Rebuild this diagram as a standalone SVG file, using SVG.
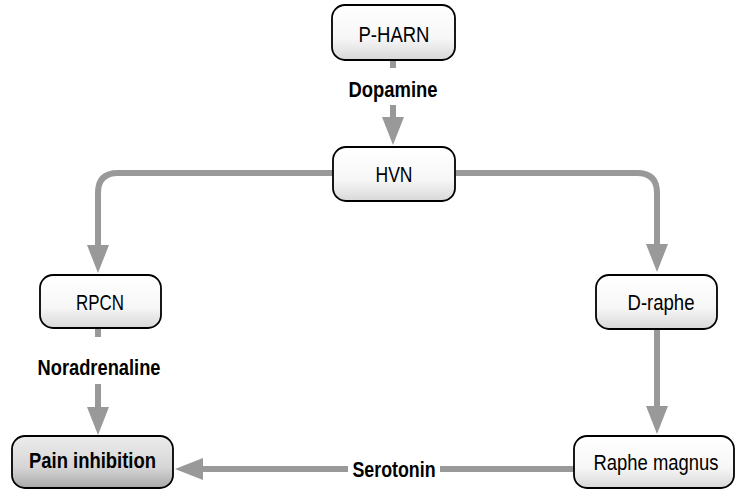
<svg xmlns="http://www.w3.org/2000/svg" width="737" height="490" viewBox="0 0 737 490">
  <defs>
    <linearGradient id="gWhite" x1="0" y1="0" x2="0" y2="1">
      <stop offset="0" stop-color="#ffffff"/>
      <stop offset="0.6" stop-color="#f7f7f7"/>
      <stop offset="1" stop-color="#d8d8d8"/>
    </linearGradient>
    <linearGradient id="gGray" x1="0" y1="0" x2="0" y2="1">
      <stop offset="0" stop-color="#ececec"/>
      <stop offset="0.6" stop-color="#d6d6d6"/>
      <stop offset="1" stop-color="#a8a8a8"/>
    </linearGradient>
    <marker id="arrow" viewBox="0 0 28 22" refX="0" refY="11" markerWidth="28" markerHeight="22" markerUnits="userSpaceOnUse" orient="auto">
      <path d="M0,0 L28,11 L0,22 Z" fill="#999999"/>
    </marker>
  </defs>
  <style>
    .box { fill: url(#gWhite); stroke: #000; stroke-width: 1.8; }
    .box.dark { fill: url(#gGray); }
    .lbl { font-family: "Liberation Sans Narrow", "Arial Narrow", "Liberation Sans", Arial, sans-serif; font-size: 22px; text-anchor: middle; fill: #000; }
    .bold { font-weight: bold; }
    .conn { fill: none; stroke: #999999; stroke-width: 6; }
  </style>
  <rect width="737" height="490" fill="#ffffff"/>

  <g id="connectors">
    <line class="conn" x1="393" y1="60" x2="393" y2="68"/>
    <line class="conn" x1="393" y1="105" x2="393" y2="117" marker-end="url(#arrow)"/>
    <path class="conn" d="M334,173 H118 Q98,173 98,193 V245" marker-end="url(#arrow)"/>
    <path class="conn" d="M456,173 H637 Q657,173 657,193 V244" marker-end="url(#arrow)"/>
    <line class="conn" x1="98" y1="328" x2="98" y2="337"/>
    <line class="conn" x1="98" y1="384" x2="98" y2="407" marker-end="url(#arrow)"/>
    <line class="conn" x1="657" y1="329" x2="657" y2="406" marker-end="url(#arrow)"/>
    <line class="conn" x1="574" y1="469" x2="440" y2="469"/>
    <line class="conn" x1="348" y1="469" x2="203" y2="469" marker-end="url(#arrow)"/>
    <text class="lbl bold" x="393" y="97" textLength="89" lengthAdjust="spacingAndGlyphs">Dopamine</text>
    <text class="lbl bold" x="99" y="375" textLength="123" lengthAdjust="spacingAndGlyphs">Noradrenaline</text>
    <text class="lbl bold" x="394" y="477" textLength="83" lengthAdjust="spacingAndGlyphs">Serotonin</text>
  </g>

  <g id="node-pharn">
    <rect class="box" x="332" y="5" width="123" height="55" rx="13"/>
    <text class="lbl" x="394" y="42" textLength="71" lengthAdjust="spacingAndGlyphs">P-HARN</text>
  </g>
  <g id="node-hvn">
    <rect class="box" x="333" y="147" width="122" height="54" rx="13"/>
    <text class="lbl" x="394" y="182" textLength="37" lengthAdjust="spacingAndGlyphs">HVN</text>
  </g>
  <g id="node-rpcn">
    <rect class="box" x="40" y="275" width="121" height="53" rx="13"/>
    <text class="lbl" x="100" y="310" textLength="48" lengthAdjust="spacingAndGlyphs">RPCN</text>
  </g>
  <g id="node-draphe">
    <rect class="box" x="596" y="275" width="121" height="54" rx="13"/>
    <text class="lbl" x="661" y="310" textLength="67" lengthAdjust="spacingAndGlyphs">D-raphe</text>
  </g>
  <g id="node-pain">
    <rect class="box dark" x="12" y="436" width="161" height="52" rx="13"/>
    <text class="lbl bold" x="92.5" y="468" textLength="127" lengthAdjust="spacingAndGlyphs">Pain inhibition</text>
  </g>
  <g id="node-raphe-magnus">
    <rect class="box" x="574" y="436" width="160" height="52" rx="13"/>
    <text class="lbl" x="656" y="470" textLength="125" lengthAdjust="spacingAndGlyphs">Raphe magnus</text>
  </g>
</svg>
